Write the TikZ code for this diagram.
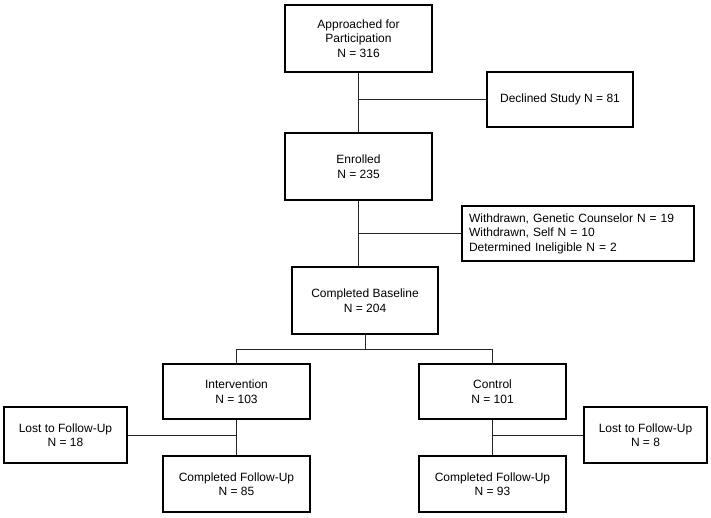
\documentclass[tikz,border=0pt]{standalone}
\usepackage{fontspec}
\setmainfont{Liberation Sans}
\begin{document}
\begin{tikzpicture}[x=1pt,y=-1pt,
  box/.style={draw=black,line width=1.8pt,align=center,inner sep=0pt,
    font=\fontsize{12}{14.5}\selectfont},
  conn/.style={draw=black!85,line width=0.9pt}]
\useasboundingbox (0,0) rectangle (711,517);
\node[box,minimum width=147pt,minimum height=67pt] (app) at (358.5,38.5) {Approached for\\Participation\\N = 316};
\node[box,minimum width=146pt,minimum height=55pt] (dec) at (560,99.5) {Declined Study N = 81};
\node[box,minimum width=147pt,minimum height=67pt] (enr) at (358.5,166.5) {Enrolled\\N = 235};
\node[box,align=left,text width=218pt,inner xsep=7pt,minimum height=55pt] (wd) at (578,233.5) {Withdrawn, Genetic Counselor N = 19\\Withdrawn, Self N = 10\\Determined Ineligible N = 2};
\node[box,minimum width=146pt,minimum height=67pt] (base) at (365,300.5) {Completed Baseline\\N = 204};
\node[box,minimum width=147pt,minimum height=55pt] (int) at (236.5,391.5) {Intervention\\N = 103};
\node[box,minimum width=147pt,minimum height=55pt] (ctl) at (492.5,391.5) {Control\\N = 101};
\node[box,minimum width=123pt,minimum height=56pt] (lostL) at (65.5,435) {Lost to Follow-Up\\N = 18};
\node[box,minimum width=123pt,minimum height=56pt] (lostR) at (645.5,435) {Lost to Follow-Up\\N = 8};
\node[box,minimum width=147pt,minimum height=56pt] (cfuL) at (236.5,484) {Completed Follow-Up\\N = 85};
\node[box,minimum width=147pt,minimum height=56pt] (cfuR) at (492.5,484) {Completed Follow-Up\\N = 93};
\coordinate (split) at (365,349);
\path[conn] (app.south) -- (enr.north);
\path[conn] (dec.west) -- (app.south |- dec.west);
\path[conn] (enr.south) -- (enr.south |- base.north);
\path[conn] (wd.west) -- (enr.south |- wd.west);
\path[conn] (base.south) -- (split);
\path[conn] (int.north) -- (int.north |- split) -- (ctl.north |- split) -- (ctl.north);
\path[conn] (int.south) -- (cfuL.north);
\path[conn] (lostL.east) -- (int.south |- lostL.east);
\path[conn] (ctl.south) -- (cfuR.north);
\path[conn] (lostR.west) -- (ctl.south |- lostR.west);
\end{tikzpicture}
\end{document}
